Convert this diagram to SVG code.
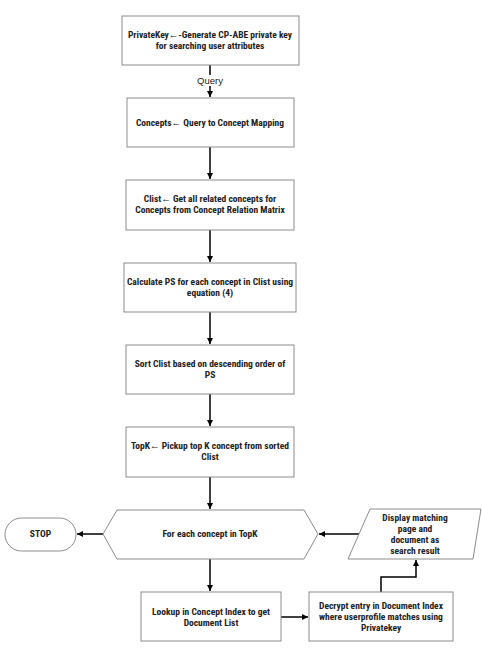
<svg xmlns="http://www.w3.org/2000/svg" width="482" height="656" viewBox="0 0 482 656">
<style>
.box{fill:#fff;stroke:#8c8c8c;stroke-width:1}
.t{font-family:"Liberation Sans Narrow","Roboto Condensed","Liberation Sans",sans-serif;font-weight:bold;font-size:9.5px;fill:#222;text-anchor:middle}
.lbl{font-family:"Liberation Sans Narrow","Liberation Sans",sans-serif;font-size:9.5px;fill:#222;text-anchor:middle}
.c{fill:none;stroke:#000;stroke-width:1.5}
</style>
<defs>
<marker id="ah" viewBox="0 0 10 10" refX="10" refY="5" markerWidth="6" markerHeight="6" markerUnits="userSpaceOnUse" orient="auto">
<path d="M0,0 L10,5 L0,10 z" fill="#000"/>
</marker>
</defs>
<rect width="482" height="656" fill="#fff"/>
<g id="connectors">
<line class="c" x1="210" y1="65" x2="210" y2="97" marker-end="url(#ah)"/>
<rect x="194" y="75" width="32" height="11" fill="#fff"/>
<text class="lbl" x="210" y="84">Query</text>
<line class="c" x1="210" y1="147" x2="210" y2="179" marker-end="url(#ah)"/>
<line class="c" x1="210" y1="230" x2="210" y2="262" marker-end="url(#ah)"/>
<line class="c" x1="210" y1="312" x2="210" y2="344" marker-end="url(#ah)"/>
<line class="c" x1="210" y1="394" x2="210" y2="426" marker-end="url(#ah)"/>
<line class="c" x1="210" y1="477" x2="210" y2="509" marker-end="url(#ah)"/>
<line class="c" x1="103" y1="534" x2="77" y2="534" marker-end="url(#ah)"/>
<line class="c" x1="359" y1="534" x2="319" y2="534" marker-end="url(#ah)"/>
<line class="c" x1="210" y1="559" x2="210" y2="591" marker-end="url(#ah)"/>
<line class="c" x1="281" y1="617" x2="308" y2="617" stroke="#999" marker-end="url(#ah)"/>
<polyline class="c" points="381,592 381,577 416,577 416,560" marker-end="url(#ah)"/>
</g>
<g id="n1">
<rect class="box" x="122" y="16" width="177" height="49"/>
<text class="t" x="210" y="38">PrivateKey←-Generate CP-ABE private key</text>
<text class="t" x="210" y="49">for searching user attributes</text>
</g>
<g id="n2">
<rect class="box" x="127" y="98" width="167" height="49"/>
<text class="t" x="210" y="126">Concepts← Query to Concept Mapping</text>
</g>
<g id="n3">
<rect class="box" x="126" y="180" width="168" height="50"/>
<text class="t" x="210" y="202">Clist← Get all related concepts for</text>
<text class="t" x="210" y="213">Concepts from Concept Relation Matrix</text>
</g>
<g id="n4">
<rect class="box" x="124" y="263" width="172" height="49"/>
<text class="t" x="210" y="285">Calculate PS for each concept in Clist using</text>
<text class="t" x="210" y="296">equation (4)</text>
</g>
<g id="n5">
<rect class="box" x="126" y="345" width="168" height="49"/>
<text class="t" x="210" y="367">Sort Clist based on descending order of</text>
<text class="t" x="210" y="378">PS</text>
</g>
<g id="n6">
<rect class="box" x="126" y="427" width="168" height="50"/>
<text class="t" x="210" y="449">TopK← Pickup top K concept from sorted</text>
<text class="t" x="210" y="460">Clist</text>
</g>
<g id="loop">
<polygon class="box" points="103,534 117,510 304,510 318,534 304,559 117,559"/>
<text class="t" x="210" y="537">For each concept in TopK</text>
</g>
<g id="stop">
<rect class="box" x="5" y="518" width="71" height="33" rx="16.5"/>
<text class="t" x="40.5" y="537">STOP</text>
</g>
<g id="display">
<polygon class="box" points="370,509 481,509 473,559 348,559"/>
<text class="t" x="415" y="521">Display matching</text>
<text class="t" x="415" y="532">page and</text>
<text class="t" x="415" y="543">document as</text>
<text class="t" x="415" y="554">search result</text>
</g>
<g id="lookup">
<rect class="box" x="141" y="592" width="140" height="49"/>
<text class="t" x="211" y="615">Lookup in Concept Index to get</text>
<text class="t" x="211" y="626">Document List</text>
</g>
<g id="decrypt">
<rect class="box" x="309" y="592" width="144" height="49"/>
<text class="t" x="381" y="609">Decrypt entry in Document Index</text>
<text class="t" x="381" y="620">where userprofile matches using</text>
<text class="t" x="381" y="631">Privatekey</text>
</g>
</svg>
